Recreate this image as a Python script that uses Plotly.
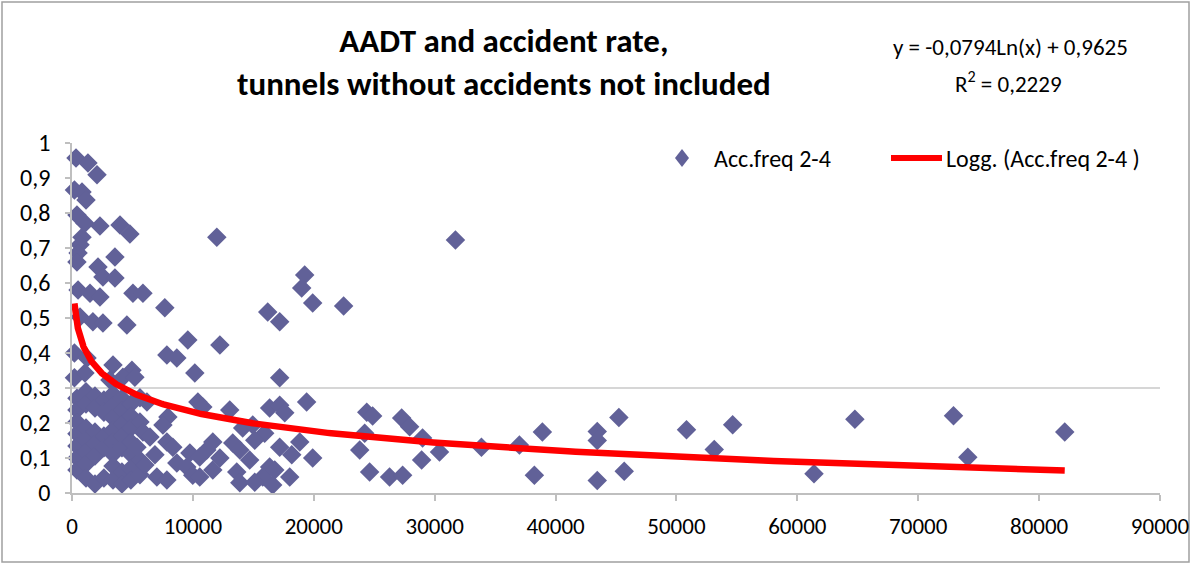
import numpy as np
import plotly.graph_objects as go

# Annual average daily traffic per tunnel and its accident frequency (2-4)
aadt = [
    330, 1320, 2070, 200, 830, 1160, 410, 1070, 2310, 3970,
    4790, 830, 660, 500, 410, 3550, 2150, 2560, 3550, 500,
    1490, 2310, 5040, 5870, 7680, 11980, 16190, 17180, 19250, 19000,
    19910, 22470, 31720, 660, 1730, 2560, 4540, 200, 1240, 3390,
    4960, 200, 1070, 4210, 3140, 9580, 12230, 7850, 8670, 10160,
    17180, 5200,
    410, 410, 410, 410, 410, 410, 410,
    1160, 1160, 1160, 1160, 1160, 1160, 1160,
    1900, 1900, 1900, 1900, 1900, 1900,
    2640, 2640, 2640, 2640, 2640,
    3390, 3390, 3390, 3390, 3390, 3390, 3390, 3390,
    4130, 4130, 4130, 4130, 4130, 4130, 4130,
    4870, 4870, 4870, 4870, 4870, 4870, 4870,
    5620, 5620, 5620, 5620,
    6200, 10410, 5870, 6450, 7930, 7520, 7850, 8340, 9750, 10570,
    5370, 8670, 9500, 7020, 7850, 9990, 10570, 6030, 6860,
    10820, 13050, 16350, 14120, 14950, 15940, 11650, 11150, 13300, 13880,
    15120, 12230, 14700, 16350, 11650, 13630, 15780, 16770, 13880, 15120,
    16600,
    17180, 19410, 17600, 17180, 18840, 18180, 19910, 18010,
    24380, 24870, 24210, 23800, 24620, 26270, 27350, 27270, 27930, 29000,
    28920, 30400, 33870, 37010, 38910, 38250,
    43450, 43450, 43450, 45240, 45680, 50830, 53130, 54650, 61380, 64760,
    72920, 74100, 82120,
]
acc_rate = [
    0.957, 0.943, 0.909, 0.866, 0.860, 0.837, 0.794, 0.771, 0.763, 0.766,
    0.740, 0.731, 0.709, 0.686, 0.660, 0.674, 0.646, 0.617, 0.614, 0.580,
    0.571, 0.560, 0.571, 0.571, 0.529, 0.731, 0.517, 0.489, 0.623, 0.586,
    0.543, 0.534, 0.723, 0.503, 0.489, 0.486, 0.480, 0.400, 0.386, 0.366,
    0.351, 0.329, 0.343, 0.331, 0.323, 0.437, 0.423, 0.394, 0.386, 0.343,
    0.329, 0.331,
    0.271, 0.237, 0.203, 0.169, 0.134, 0.100, 0.066,
    0.289, 0.254, 0.186, 0.151, 0.117, 0.083, 0.043,
    0.277, 0.243, 0.174, 0.140, 0.106, 0.026,
    0.266, 0.231, 0.163, 0.129, 0.043,
    0.283, 0.249, 0.214, 0.180, 0.146, 0.111, 0.077, 0.037,
    0.271, 0.237, 0.197, 0.163, 0.129, 0.060, 0.026,
    0.254, 0.220, 0.186, 0.146, 0.111, 0.071, 0.037,
    0.272, 0.203, 0.094, 0.052,
    0.260, 0.260, 0.174, 0.160, 0.217, 0.194, 0.146, 0.131, 0.114, 0.103,
    0.131, 0.086, 0.074, 0.046, 0.037, 0.051, 0.046, 0.080, 0.109,
    0.246, 0.237, 0.243, 0.186, 0.194, 0.171, 0.146, 0.123, 0.143, 0.123,
    0.151, 0.100, 0.094, 0.074, 0.066, 0.060, 0.046, 0.066, 0.029, 0.031,
    0.023,
    0.251, 0.260, 0.229, 0.131, 0.146, 0.109, 0.100, 0.046,
    0.231, 0.220, 0.171, 0.123, 0.060, 0.046, 0.051, 0.214, 0.189, 0.157,
    0.094, 0.117, 0.131, 0.137, 0.174, 0.051,
    0.176, 0.150, 0.036, 0.216, 0.062, 0.181, 0.124, 0.195, 0.055, 0.211,
    0.221, 0.102, 0.174,
]

# Logarithmic trend line y = a*ln(x) + b
trend_a = -0.0794
trend_b = 0.9625
r_squared = "0,2229"

x_ticks = [0, 10000, 20000, 30000, 40000, 50000, 60000, 70000, 80000, 90000]
x_tick_labels = ["0", "10000", "20000", "30000", "40000", "50000",
                 "60000", "70000", "80000", "90000"]
y_ticks = [0, 0.1, 0.2, 0.3, 0.4, 0.5, 0.6, 0.7, 0.8, 0.9, 1.0]
y_tick_labels = ["0", "0,1", "0,2", "0,3", "0,4", "0,5",
                 "0,6", "0,7", "0,8", "0,9", "1"]

series_name = "Acc.freq 2-4"
trend_name = "Logg. (Acc.freq 2-4 )"
title_text = "AADT and accident rate,<br>tunnels without accidents not included"

FONT = "Carlito, Lato, 'Open Sans', sans-serif"
MARKER_COLOR = "#616198"
TREND_COLOR = "#ff0000"
AXIS_COLOR = "#bfbfbf"

# plot area geometry in pixels
W, H = 1191, 565
L, R, T, B = 72, 31, 143, 72
PW, PH = W - L - R, H - T - B


def px_x(px):
    return (px - L) / PW


def px_y(py):
    return (H - B - py) / PH


trend_x = np.geomspace(min(aadt), max(aadt), 400)
trend_y = trend_a * np.log(trend_x) + trend_b

fig = go.Figure()
fig.add_trace(go.Scatter(
    x=aadt, y=acc_rate, mode="markers", name=series_name,
    marker=dict(symbol="diamond", size=15, color=MARKER_COLOR, line=dict(width=0)),
    cliponaxis=False, showlegend=False,
))
fig.add_trace(go.Scatter(
    x=trend_x, y=trend_y, mode="lines", name=trend_name,
    line=dict(color=TREND_COLOR, width=6.5), cliponaxis=False, showlegend=False,
))

shapes = [
    # single horizontal gridline at 0.3
    dict(type="line", xref="paper", yref="y", x0=0, x1=1, y0=0.3, y1=0.3,
         line=dict(color="#c8c8c8", width=1.5), layer="below"),
    # chart border
    dict(type="rect", xref="paper", yref="paper",
         x0=px_x(2), x1=px_x(1189), y0=px_y(2), y1=px_y(562),
         line=dict(color="#a0a0a0", width=1.5), layer="below"),
    # legend: diamond symbol
    dict(type="path", xref="paper", yref="paper", xsizemode="pixel", ysizemode="pixel",
         xanchor=px_x(682), yanchor=px_y(158),
         path="M 0 9 L 7 0 L 0 -9 L -7 0 Z",
         fillcolor=MARKER_COLOR, line=dict(width=0)),
    # legend: trend line symbol
    dict(type="line", xref="paper", yref="paper",
         x0=px_x(891), x1=px_x(942), y0=px_y(158), y1=px_y(158),
         line=dict(color=TREND_COLOR, width=6)),
]

annotations = [
    dict(text=title_text, x=px_x(504), y=px_y(63), xref="paper", yref="paper",
         showarrow=False, xanchor="center", yanchor="middle", align="center",
         font=dict(family=FONT, size=33, color="#000000", weight="bold")),
    dict(text="y = -0,0794Ln(x) + 0,9625", x=px_x(1010), y=px_y(47),
         xref="paper", yref="paper", showarrow=False, xanchor="center", yanchor="middle",
         font=dict(family=FONT, size=23, color="#000000")),
    dict(text="R<sup>2</sup> = " + r_squared, x=px_x(1008), y=px_y(83),
         xref="paper", yref="paper", showarrow=False, xanchor="center", yanchor="middle",
         font=dict(family=FONT, size=23, color="#000000")),
    dict(text=series_name, x=px_x(712), y=px_y(158), xref="paper", yref="paper",
         showarrow=False, xanchor="left", yanchor="middle",
         font=dict(family=FONT, size=24, color="#000000")),
    dict(text=trend_name, x=px_x(944), y=px_y(158), xref="paper", yref="paper",
         showarrow=False, xanchor="left", yanchor="middle",
         font=dict(family=FONT, size=24, color="#000000")),
]

fig.update_layout(
    width=W, height=H,
    margin=dict(l=L, r=R, t=T, b=B, pad=0),
    paper_bgcolor="#ffffff", plot_bgcolor="#ffffff",
    showlegend=False,
    shapes=shapes, annotations=annotations,
    font=dict(family=FONT, color="#000000"),
    xaxis=dict(
        range=[0, 90000], tickmode="array", tickvals=x_ticks, ticktext=x_tick_labels,
        showgrid=False, zeroline=False, showline=True, linecolor=AXIS_COLOR, linewidth=1.5,
        ticks="outside", ticklen=6, tickcolor=AXIS_COLOR, tickwidth=1.5,
        tickfont=dict(family=FONT, size=23, color="#000000"),
        ticklabelstandoff=6, automargin=False,
    ),
    yaxis=dict(
        range=[0, 1], tickmode="array", tickvals=y_ticks, ticktext=y_tick_labels,
        showgrid=False, zeroline=False, showline=True, linecolor=AXIS_COLOR, linewidth=1.5,
        ticks="outside", ticklen=5, tickcolor=AXIS_COLOR, tickwidth=1.5,
        tickfont=dict(family=FONT, size=24, color="#000000"),
        ticklabelstandoff=10, automargin=False,
    ),
)

fig.write_html("out.html")
